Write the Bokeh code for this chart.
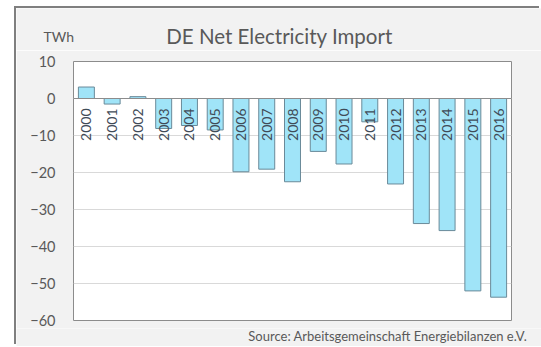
import math
from bokeh.plotting import figure
from bokeh.layouts import column
from bokeh.models import FactorRange, Range1d, FixedTicker, Span, Label, ColumnDataSource
from bokeh.core.properties import value
from bokeh.embed import file_html
from bokeh.resources import INLINE

years = ["2000", "2001", "2002", "2003", "2004", "2005", "2006", "2007", "2008",
         "2009", "2010", "2011", "2012", "2013", "2014", "2015", "2016"]
net_import = [3.1, -1.5, 0.5, -8.1, -7.3, -8.5, -19.8, -19.1, -22.5,
              -14.3, -17.7, -6.3, -23.1, -33.8, -35.7, -52.0, -53.7]
y_ticks = [10, 0, -10, -20, -30, -40, -50, -60]

FONT = "Lato"
GREY = "#595959"
BG = "#f2f2f2"
W = 525


def strip(height):
    f = figure(width=W, height=height, x_range=Range1d(0, W), y_range=Range1d(height, 0),
               output_backend="svg", toolbar_location=None, title=None,
               x_axis_location=None, y_axis_location=None, frame_align=False,
               min_border_left=0, min_border_right=0, min_border_top=0, min_border_bottom=0)
    f.grid.visible = False
    f.background_fill_color = BG
    f.border_fill_color = BG
    f.outline_line_color = None
    return f


# header strip: title and unit
top = strip(42)
top.add_layout(Label(x=263, y=27, text="DE Net Electricity Import", text_align="center",
                     text_baseline="middle", text_font=FONT, text_font_size="20.5px",
                     text_color=GREY))
top.add_layout(Label(x=27, y=28, text="TWh", text_align="left", text_baseline="middle",
                     text_font=FONT, text_font_size="14px", text_color=GREY))

# main chart
p = figure(x_range=FactorRange(*years, range_padding=0), y_range=Range1d(-60, 10),
           width=W, height=278, output_backend="svg", toolbar_location=None, title=None,
           min_border_left=57, min_border_right=30, min_border_top=11, min_border_bottom=8)
p.background_fill_color = "white"
p.border_fill_color = BG
p.outline_line_color = "#8c8c8c"
p.outline_line_width = 1

p.xaxis.visible = False
p.xgrid.grid_line_color = None
p.ygrid.grid_line_color = "#d9d9d9"
p.ygrid.ticker = FixedTicker(ticks=y_ticks)

ax = p.yaxis[0]
ax.ticker = FixedTicker(ticks=y_ticks)
ax.axis_line_color = None
ax.major_tick_line_color = None
ax.minor_tick_line_color = None
ax.major_label_standoff = 12
ax.major_label_text_font = FONT
ax.major_label_text_font_size = "14.5px"
ax.major_label_text_color = GREY

src = ColumnDataSource(dict(x=years, top=net_import, zero=[0] * len(years)))
p.vbar(x="x", top="top", bottom=0, width=0.62, source=src,
       fill_color="#a0e4f8", line_color="#6a8a99", line_width=1)

p.add_layout(Span(location=0, dimension="width", line_color="#8c8c8c", line_width=1))

p.text(x="x", y="zero", text="x", source=src, angle=math.pi / 2,
       text_align="right", text_baseline="middle", y_offset=10,
       text_font=value(FONT), text_font_size="14px", text_color="#3f4b57")

# footer strip: source
bottom = strip(18)
bottom.add_layout(Label(x=514, y=7, text="Source:  Arbeitsgemeinschaft Energiebilanzen e.V.",
                        text_align="right", text_baseline="middle", text_font=FONT,
                        text_font_size="13px", text_color=GREY))

layout = column(top, p, bottom, spacing=0, margin=(8, 0, 0, 16),
                styles={"box-shadow": "-2px -2px 0 0 #7f7f7f"})

open("out.html", "w").write(file_html(layout, INLINE))
